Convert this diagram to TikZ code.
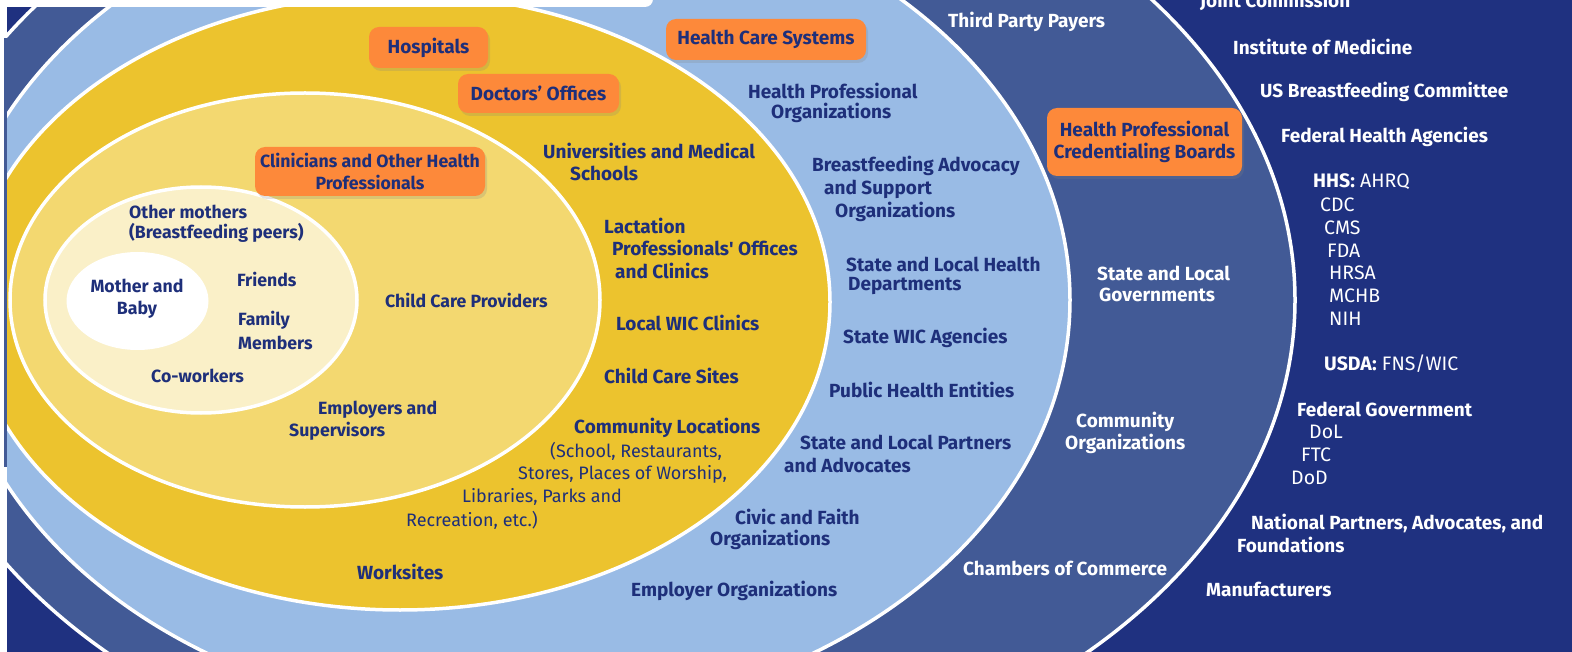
\documentclass[tikz,border=0pt]{standalone}
\usepackage{fontspec}
\setmainfont{Fira Sans}
\usetikzlibrary{shadows}
\definecolor{navy}{RGB}{31,49,128}
\definecolor{medblue}{RGB}{66,90,150}
\definecolor{ltblue}{RGB}{153,187,229}
\definecolor{gold}{RGB}{236,195,46}
\definecolor{ltgold}{RGB}{243,216,112}
\definecolor{cream}{RGB}{250,240,200}
\definecolor{orng}{RGB}{253,137,58}
\definecolor{txt}{RGB}{30,47,122}
\begin{document}
\begin{tikzpicture}[x=1pt,y=-1pt,
  ring/.style={draw=white, line width=3.5pt},
  dk/.style={text=txt, font=\bfseries\fontsize{19}{22}\selectfont, inner sep=0pt, anchor=west},
  dks/.style={text=txt, font=\bfseries\fontsize{17.7}{22}\selectfont, inner sep=0pt, anchor=west},
  dkr/.style={text=txt, font=\fontsize{18}{22}\selectfont, inner sep=0pt, anchor=west},
  wt/.style={text=white, font=\bfseries\fontsize{19}{22}\selectfont, inner sep=0pt, anchor=west},
  wtr/.style={text=white, font=\fontsize{19.5}{22}\selectfont, inner sep=0pt, anchor=west},
  obox/.style={fill=orng, rounded corners=10pt, text=txt, align=center, inner sep=0pt,
    font=\bfseries\fontsize{19}{22.5}\selectfont,
    drop shadow={opacity=0.22, shadow xshift=2pt, shadow yshift=-3pt}}]
\useasboundingbox (0,0) rectangle (1572,652);
\begin{scope}
\clip (0,0) rectangle (1572,652);
\fill[navy] (-5,-5) rectangle (1580,660);
\draw[ring, fill=medblue] (597,300) ellipse [x radius=698pt, y radius=495pt];
\draw[ring, fill=ltblue] (510,300) ellipse [x radius=560pt, y radius=420pt];
\draw[ring, fill=gold] (400,302) ellipse [x radius=430pt, y radius=308pt];
\draw[ring, fill=ltgold] (305,300) ellipse [x radius=295pt, y radius=207pt];
\draw[ring, fill=cream] (201,300) ellipse [x radius=156pt, y radius=113pt];
\fill[white] (137.5,301) ellipse [x radius=71pt, y radius=49pt];
\fill[white, rounded corners=8pt] (-20,-20) rectangle (653,7);
\fill[white] (-2,-2) rectangle (6.5,654);
\fill[medblue] (4,38) rectangle (6.5,467);
\end{scope}
% orange boxes
\node[obox, minimum width=119pt, minimum height=41pt] (hosp) at (428.5,47.5) {Hospitals};
\node[obox, minimum width=161pt, minimum height=39pt] (doc) at (538.5,93.5) {Doctors’ Offices};
\node[obox, minimum width=200pt, minimum height=41pt] (hcs) at (766,39.5) {Health Care Systems};
\node[obox, minimum width=230pt, minimum height=49pt, font=\bfseries\fontsize{17.7}{22.5}\selectfont] (clin) at (370,171.5) {Clinicians and Other Health\\Professionals};
\node[obox, minimum width=195pt, minimum height=68pt] (hpcb) at (1144.5,142) {Health Professional\\Credentialing Boards};
% gold ring
\node[dk] (univ1) at (543,151) {Universities and Medical};
\node[dk] (univ2) at (570,173) {Schools};
\node[dk] (lact1) at (604,226) {Lactation};
\node[dk] (lact2) at (612,248) {Professionals\textquotesingle{} Offices};
\node[dk] (lact3) at (615,271) {and Clinics};
\node[dk] (wic) at (616,323) {Local WIC Clinics};
\node[dk] (ccs) at (604,376) {Child Care Sites};
\node[dk] (comm) at (574,428) {Community Locations};
\node[dkr] (comm1) at (550,451) {(School, Restaurants,};
\node[dkr] (comm2) at (518,474) {Stores, Places of Worship,};
\node[dkr] (comm3) at (462,497) {Libraries, Parks and};
\node[dkr] (comm4) at (406,520) {Recreation, etc.)};
\node[dk] (work) at (357,572) {Worksites};
% inner rings
\node[dks] (om1) at (129,212) {Other mothers};
\node[dks] (om2) at (129,233) {(Breastfeeding peers)};
\node[dks, anchor=center, align=center] (mb) at (137,299) {Mother and\\Baby};
\node[dks] (fr) at (237,279) {Friends};
\node[dks] (fam1) at (238,320) {Family};
\node[dks] (fam2) at (238,343) {Members};
\node[dks] (cow) at (151,376) {Co-workers};
\node[dks] (ccp) at (385,300) {Child Care Providers};
\node[dks] (emp1) at (318,410) {Employers and};
\node[dks] (emp2) at (289,431) {Supervisors};
% light blue ring
\node[dk] (hpo1) at (748,91) {Health Professional};
\node[dk] (hpo2) at (771,113) {Organizations};
\node[dk] (bf1) at (812,166) {Breastfeeding Advocacy};
\node[dk] (bf2) at (824,189) {and Support};
\node[dk] (bf3) at (835,212) {Organizations};
\node[dk] (slh1) at (846,264) {State and Local Health};
\node[dk] (slh2) at (848,286) {Departments};
\node[dk] (swic) at (843,338) {State WIC Agencies};
\node[dk] (phe) at (829,390) {Public Health Entities};
\node[dk] (slp1) at (800,442) {State and Local Partners};
\node[dk] (slp2) at (784,465) {and Advocates};
\node[dk] (cf1) at (735,517) {Civic and Faith};
\node[dk] (cf2) at (710,540) {Organizations};
\node[dk] (eo) at (631,591) {Employer Organizations};
% medium blue ring
\node[wt] (tpp) at (948,22) {Third Party Payers};
\node[wt] (slg1) at (1097,273) {State and Local};
\node[wt] (slg2) at (1099,295) {Governments};
\node[wt] (co1) at (1076,422) {Community};
\node[wt] (co2) at (1065,444) {Organizations};
\node[wt] (coc) at (963,568) {Chambers of Commerce};
% navy ring
\node[wt] (jc) at (1200,1) {Joint Commission};
\node[wt] (iom) at (1233,47) {Institute of Medicine};
\node[wt] (usbc) at (1260,92) {US Breastfeeding Committee};
\node[wt] (fha) at (1281,137) {Federal Health Agencies};
\node[wtr] (hhs) at (1313,182) {\bfseries HHS:\mdseries\ AHRQ};
\node[wtr] (cdc) at (1320,205) {CDC};
\node[wtr] (cms) at (1324,228) {CMS};
\node[wtr] (fda) at (1327,251) {FDA};
\node[wtr] (hrsa) at (1329,273) {HRSA};
\node[wtr] (mchb) at (1329,296) {MCHB};
\node[wtr] (nih) at (1329,319) {NIH};
\node[wtr] (usda) at (1324,364) {\bfseries USDA:\mdseries\ FNS/WIC};
\node[wt] (fg) at (1297,409) {Federal Government};
\node[wtr] (dol) at (1309,432) {DoL};
\node[wtr] (ftc) at (1301,455) {FTC};
\node[wtr] (dod) at (1291,478) {DoD};
\node[wt] (np1) at (1251,523) {National Partners, Advocates, and};
\node[wt] (np2) at (1237,545) {Foundations};
\node[wt] (man) at (1206,589) {Manufacturers};
\end{tikzpicture}
\end{document}
